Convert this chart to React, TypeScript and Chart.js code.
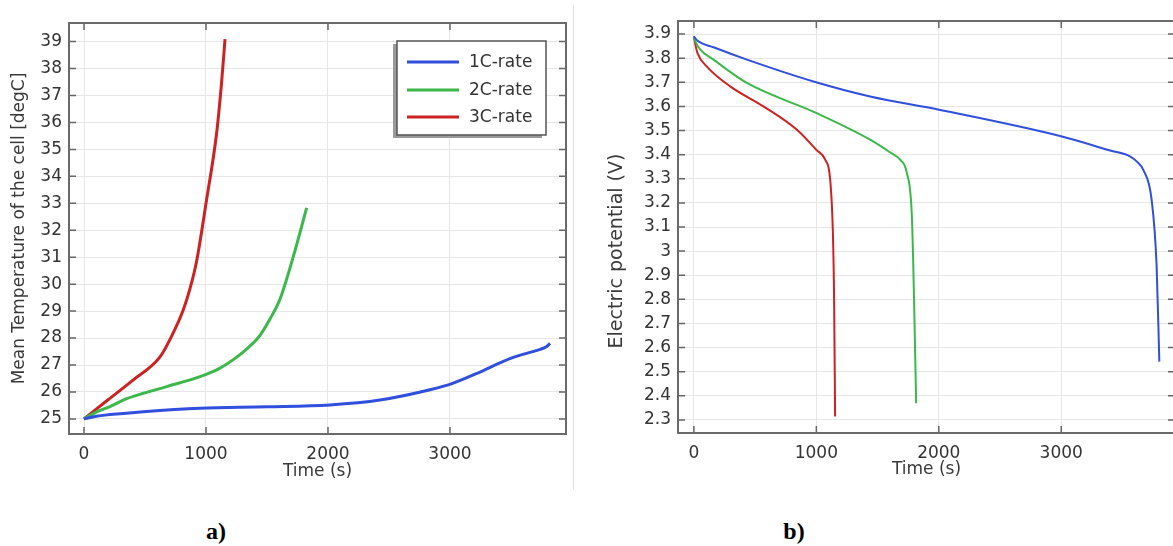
import React, { useEffect, useRef } from 'react';
import { Chart, registerables } from 'chart.js';

Chart.register(...registerables);

// ---------- Data: chart a) mean temperature ----------
const time1C_a = [0, 100, 213, 486, 951, 1500, 2016, 2426, 2836, 3027, 3246, 3400, 3519, 3640, 3740, 3790, 3820];
const temp1C = [25.0, 25.1, 25.16, 25.27, 25.4, 25.45, 25.52, 25.7, 26.08, 26.33, 26.74, 27.06, 27.28, 27.45, 27.58, 27.68, 27.8];
const time2C_a = [0, 100, 213, 350, 486, 678, 951, 1100, 1224, 1340, 1443, 1530, 1607, 1716, 1825];
const temp2C = [25.0, 25.25, 25.46, 25.75, 25.95, 26.2, 26.57, 26.85, 27.2, 27.62, 28.1, 28.75, 29.45, 31.03, 32.83];
const time3C_a = [0, 200, 404, 623, 732, 814, 870, 923, 1005, 1087, 1128, 1156];
const temp3C = [25.0, 25.72, 26.45, 27.3, 28.2, 29.05, 29.85, 30.85, 33.14, 35.6, 37.5, 39.09];

// ---------- Data: chart b) electric potential ----------
const time1C_b = [0, 30, 160, 433, 998, 1439, 2002, 2998, 3400, 3561, 3620, 3670, 3738, 3779, 3801];
const volt1C = [3.89, 3.872, 3.845, 3.794, 3.7, 3.641, 3.586, 3.476, 3.417, 3.393, 3.37, 3.337, 3.213, 2.936, 2.542];
const time2C_b = [0, 10, 50, 160, 433, 998, 1439, 1600, 1684, 1739, 1780, 1798, 1815];
const volt2C = [3.89, 3.872, 3.836, 3.794, 3.697, 3.573, 3.462, 3.41, 3.379, 3.324, 3.144, 2.798, 2.369];
const time3C_b = [0, 10, 30, 106, 296, 568, 841, 1000, 1072, 1113, 1135, 1145, 1153];
const volt3C = [3.89, 3.86, 3.82, 3.765, 3.683, 3.6, 3.503, 3.42, 3.379, 3.296, 3.075, 2.798, 2.314];

// ---------- Ticks / labels ----------
const timeTicks = [0, 1000, 2000, 3000];
const tempTicks = [25, 26, 27, 28, 29, 30, 31, 32, 33, 34, 35, 36, 37, 38, 39];
const voltTicks = [2.3, 2.4, 2.5, 2.6, 2.7, 2.8, 2.9, 3.0, 3.1, 3.2, 3.3, 3.4, 3.5, 3.6, 3.7, 3.8, 3.9];
const seriesNames = ['1C-rate', '2C-rate', '3C-rate'];
const seriesColors = ['#2f4fdc', '#3cb84a', '#cc2222'];

const pts = (xs: number[], ys: number[]) => xs.map((x, i) => ({ x, y: ys[i] }));

const FONT = '"DejaVu Sans", sans-serif';

const framePlugin = {
  id: 'frame',
  afterDraw(chart: any, _args: any, opts: any) {
    const { ctx, chartArea: a, scales } = chart;
    ctx.save();
    // inward tick marks
    ctx.strokeStyle = '#666';
    ctx.lineWidth = 1.5;
    const tl = 7;
    for (const t of scales.x.ticks) {
      const px = scales.x.getPixelForValue(t.value);
      ctx.beginPath();
      ctx.moveTo(px, a.bottom); ctx.lineTo(px, a.bottom - tl);
      ctx.moveTo(px, a.top); ctx.lineTo(px, a.top + tl);
      ctx.stroke();
    }
    for (const t of scales.y.ticks) {
      const py = scales.y.getPixelForValue(t.value);
      ctx.beginPath();
      ctx.moveTo(a.left, py); ctx.lineTo(a.left + tl, py);
      ctx.moveTo(a.right, py); ctx.lineTo(a.right - tl, py);
      ctx.stroke();
    }
    // frame
    ctx.strokeStyle = '#6a6a6a';
    ctx.lineWidth = 2;
    ctx.strokeRect(a.left, a.top, a.right - a.left, a.bottom - a.top);

    // axis titles
    ctx.fillStyle = '#3a3a3a';
    ctx.textAlign = 'center';
    ctx.textBaseline = 'middle';
    ctx.font = `17px ${FONT}`;
    ctx.fillText(opts.xTitle, opts.xTitleX ?? (a.left + a.right) / 2, opts.xTitleY);
    ctx.save();
    ctx.font = `${opts.yTitleSize}px ${FONT}`;
    ctx.translate(opts.yTitleX, opts.yTitleY ?? (a.top + a.bottom) / 2);
    ctx.rotate(-Math.PI / 2);
    ctx.fillText(opts.yTitle, 0, 0);
    ctx.restore();

    // legend
    if (opts.legend) {
      const w = 149, h = 94;
      const bx = a.right - 20 - w, by = a.top + 18;
      ctx.fillStyle = '#9a9a9a';
      ctx.fillRect(bx - 4, by + 3, w, h);
      ctx.fillStyle = '#ffffff';
      ctx.fillRect(bx, by, w, h);
      ctx.strokeStyle = '#555';
      ctx.lineWidth = 1.5;
      ctx.strokeRect(bx, by, w, h);
      ctx.font = `17px ${FONT}`;
      ctx.textAlign = 'left';
      ctx.textBaseline = 'middle';
      const rows = [21, 49, 76];
      seriesNames.forEach((n, i) => {
        ctx.strokeStyle = seriesColors[i];
        ctx.lineWidth = 3;
        ctx.beginPath();
        ctx.moveTo(bx + 10, by + rows[i]);
        ctx.lineTo(bx + 62, by + rows[i]);
        ctx.stroke();
        ctx.fillStyle = '#333';
        ctx.fillText(n, bx + 72, by + rows[i] + 1);
      });
    }
    ctx.restore();
  },
};

function buildConfig(opts: {
  series: { x: number[]; y: number[] }[];
  xMin: number; xMax: number; yMin: number; yMax: number;
  yTicks: number[]; yFmt: (v: number) => string;
  yWidth: number; xHeight: number; padTop: number; padRight: number;
  lineWidth: number; frame: any;
}) {
  return {
    type: 'line' as const,
    data: {
      datasets: opts.series.map((s, i) => ({
        label: seriesNames[i],
        data: pts(s.x, s.y),
        borderColor: seriesColors[i],
        backgroundColor: seriesColors[i],
        borderWidth: opts.lineWidth,
        pointRadius: 0,
        fill: false,
        cubicInterpolationMode: 'monotone' as const,
      })),
    },
    options: {
      animation: false as const,
      responsive: false,
      maintainAspectRatio: false,
      layout: { padding: { top: opts.padTop, right: opts.padRight, left: 0, bottom: 0 } },
      plugins: {
        legend: { display: false },
        tooltip: { enabled: false },
        frame: opts.frame,
      },
      scales: {
        x: {
          type: 'linear' as const,
          min: opts.xMin,
          max: opts.xMax,
          afterBuildTicks: (s: any) => { s.ticks = timeTicks.map((v) => ({ value: v })); },
          afterFit: (s: any) => { s.height = opts.xHeight; },
          grid: { color: '#e6e6e6', lineWidth: 1, drawTicks: false },
          border: { display: false },
          ticks: {
            padding: 10,
            color: '#333',
            font: { family: FONT, size: 17 },
            maxRotation: 0,
            callback: (v: any) => String(v),
          },
        },
        y: {
          type: 'linear' as const,
          min: opts.yMin,
          max: opts.yMax,
          afterBuildTicks: (s: any) => { s.ticks = opts.yTicks.map((v) => ({ value: v })); },
          afterFit: (s: any) => { s.width = opts.yWidth; },
          grid: { color: '#e6e6e6', lineWidth: 1, drawTicks: false },
          border: { display: false },
          ticks: {
            padding: 7,
            color: '#333',
            font: { family: FONT, size: 17 },
            callback: (v: any) => opts.yFmt(Number(v)),
          },
        },
      },
    },
    plugins: [framePlugin],
  };
}

function ChartCanvas({ config, width, height, style }: any) {
  const ref = useRef<HTMLCanvasElement | null>(null);
  useEffect(() => {
    if (!ref.current) return;
    const chart = new Chart(ref.current, config as any);
    return () => chart.destroy();
  }, []);
  return <canvas ref={ref} width={width} height={height} style={{ position: 'absolute', width, height, ...style }} />;
}

export default function App() {
  const cfgA = buildConfig({
    series: [
      { x: time1C_a, y: temp1C },
      { x: time2C_a, y: temp2C },
      { x: time3C_a, y: temp3C },
    ],
    xMin: -123, xMax: 3951, yMin: 24.44, yMax: 39.69,
    yTicks: tempTicks, yFmt: (v) => String(Math.round(v)),
    yWidth: 69, xHeight: 66, padTop: 23, padRight: 7,
    lineWidth: 3,
    frame: { xTitle: 'Time (s)', xTitleY: 472, yTitle: 'Mean Temperature of the cell [degC]', yTitleX: 20, yTitleSize: 17, legend: true },
  });
  const cfgB = buildConfig({
    series: [
      { x: time1C_b, y: volt1C },
      { x: time2C_b, y: volt2C },
      { x: time3C_b, y: volt3C },
    ],
    xMin: -130, xMax: 3929, yMin: 2.246, yMax: 3.954,
    yTicks: voltTicks, yFmt: (v) => String(Number(v.toFixed(1))),
    yWidth: 100, xHeight: 67, padTop: 21, padRight: 3,
    lineWidth: 2,
    frame: { xTitle: 'Time (s)', xTitleY: 470, yTitle: 'Electric potential (V)', yTitleX: 39, yTitleY: 251, yTitleSize: 19, legend: false },
  });
  return (
    <div style={{ position: 'fixed', left: 0, top: 0, width: 1173, height: 546, background: '#fff', overflow: 'hidden' }}>
      <ChartCanvas config={cfgA} width={573} height={500} style={{ left: 0, top: 0 }} />
      <div style={{ position: 'absolute', left: 573, top: 5, width: 1, height: 485, background: '#e2e2e2' }} />
      <ChartCanvas config={cfgB} width={600} height={500} style={{ left: 578, top: 0 }} />
      <div style={{ position: 'absolute', left: 186, top: 516, width: 60, textAlign: 'center', font: 'bold 24px "Liberation Serif", serif', lineHeight: '30px', color: '#000' }}>a)</div>
      <div style={{ position: 'absolute', left: 764, top: 516, width: 60, textAlign: 'center', font: 'bold 24px "Liberation Serif", serif', lineHeight: '30px', color: '#000' }}>b)</div>
    </div>
  );
}
